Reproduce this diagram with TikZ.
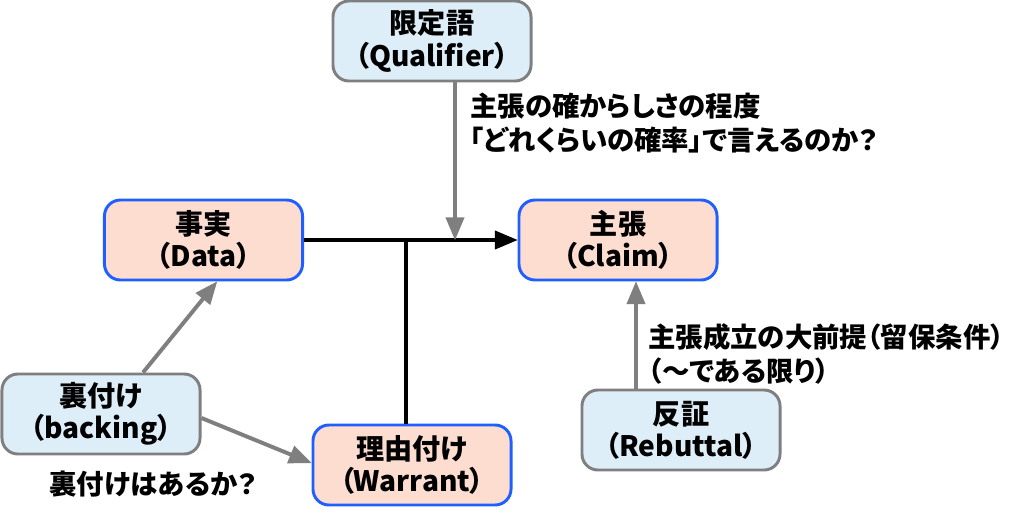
\documentclass[tikz,border=0pt]{standalone}
\usepackage{fontspec}
\setmainfont{Noto Sans CJK JP}[RawFeature=+palt]
\usepackage{tikz}
\usetikzlibrary{calc, arrows}
\definecolor{boxblue}{HTML}{DDEEF8}
\definecolor{boxpeach}{HTML}{FCDDD0}
\definecolor{edgeblue}{HTML}{1F5FFF}
\definecolor{edgegray}{HTML}{7F7F7F}
\tikzstyle{sidebox}  = [rectangle, rounded corners=0.4cm, minimum width=4.95cm, minimum height=2cm, align=center, text centered, line width=2.1pt, draw=edgegray, fill=boxblue, font=\fontsize{20pt}{23pt}\selectfont\bfseries]
\tikzstyle{mainbox}  = [sidebox, draw=edgeblue, fill=boxpeach]
\tikzstyle{note}     = [anchor=west, align=left, inner sep=0pt, font=\fontsize{19.5pt}{24pt}\selectfont\bfseries]
\tikzstyle{arrow}    = [line width=2.8pt, ->, >=triangle 45]
\tikzstyle{grayarrow}= [line width=2.8pt, edgegray, ->, >=triangle 45]

\begin{document}
\begin{tikzpicture}[x=0.025cm, y=-0.025cm]
    \useasboundingbox (0,0) rectangle (1024,515);

    \node (qual)     [sidebox] at (432,41)    {限定語\\（Qualifier）};
    \node (data)     [mainbox] at (203.5,240) {事実\\（Data）};
    \node (claim)    [mainbox] at (618,240)   {主張\\（Claim）};
    \node (backing)  [sidebox] at (101,414)   {裏付け\\（backing）};
    \node (warrant)  [mainbox] at (412,465)   {理由付け\\（Warrant）};
    \node (rebuttal) [sidebox] at (681,430)   {反証\\（Rebuttal）};

    \coordinate (wjoin) at (406,240);
    \coordinate (qjoin) at (455,240);
    \coordinate (rjoin) at (636,0);

    \draw [arrow] (data) -- (claim);
    \draw [line width=2.8pt] (warrant.north -| wjoin) -- (wjoin);
    \draw [grayarrow] (qual.south -| qjoin) -- (qjoin);
    \draw [grayarrow] ([xshift=1.05cm]backing.north) -- ([xshift=0.34cm]data.south);
    \draw [grayarrow] ([yshift=-0.1cm]backing.east) -- ([yshift=0.05cm]warrant.west);
    \draw [grayarrow] (rebuttal.north -| rjoin) -- (claim.south -| rjoin);

    \node (qualnote) [note] at (470,123) {主張の確からしさの程度\\「どれくらいの確率」で言えるのか？};
    \node (rebnote)  [note] at (648,354) {主張成立の大前提（留保条件）\\（〜である限り）};
    \node (backnote) [note, anchor=center] at (153,484) {裏付けはあるか？};

  \end{tikzpicture}
\end{document}
